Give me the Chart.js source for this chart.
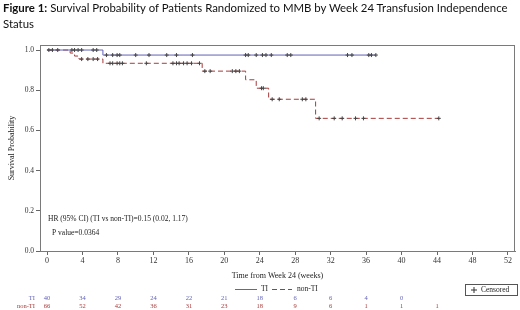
<!DOCTYPE html>
<html>
<head>
<meta charset="utf-8">
<script src="https://cdn.jsdelivr.net/npm/chart.js@4"></script>
<style>
  html, body { margin: 0; padding: 0; background: #fff; }
  #wrap { position: relative; width: 520px; height: 310px; overflow: hidden; }
  #title { position: absolute; left: 3px; top: 0; width: 515px; font-family: Lato, "Open Sans", sans-serif;
           font-size: 11.4px; line-height: 16px; color: #111; white-space: nowrap; }
  #title b { font-weight: 700; }
  canvas { position: absolute; left: 0; top: 0; }
</style>
</head>
<body>
<div id="wrap">
  <canvas id="km" width="520" height="310"></canvas>
  <div id="title"><b>Figure 1:</b> Survival Probability of Patients Randomized to MMB by Week 24 Transfusion Independence<br>Status</div>
</div>
<script>
// Kaplan-Meier steps (week, survival after that week)
const TI_TIMES = [0, 6.3, 37.1];
const TI_SURV  = [1.0, 0.975, 0.975];
const NON_TIMES = [0, 2.6, 3.1, 3.6, 6.3, 17.5, 22.4, 23.6, 25.0, 30.3, 44.2];
const NON_SURV  = [1.0, 0.985, 0.97, 0.955, 0.934, 0.895, 0.852, 0.81, 0.755, 0.66, 0.66];

// censored marks
const TI_CENS_T = [0.2, 0.6, 1.2, 2.8, 3.1, 3.5, 3.9, 5.2, 5.6,
                   6.7, 7.4, 7.9, 8.2, 10.0, 11.5, 13.5, 14.6, 16.4, 22.4, 22.7, 23.6, 24.3, 24.7, 25.3,
                   27.1, 27.5, 33.9, 34.4, 36.3, 36.6, 37.1];
const TI_CENS_S = [1, 1, 1, 1, 1, 1, 1, 1, 1,
                   0.975, 0.975, 0.975, 0.975, 0.975, 0.975, 0.975, 0.975, 0.975, 0.975, 0.975, 0.975, 0.975, 0.975, 0.975,
                   0.975, 0.975, 0.975, 0.975, 0.975, 0.975, 0.975];
const NON_CENS_T = [3.9, 4.6, 5.2, 5.7,
                    7.1, 7.4, 7.9, 8.2, 8.5, 11.2, 14.2, 14.6, 14.9, 15.4, 15.8, 16.3, 17.2,
                    17.8, 18.4, 20.9, 21.3, 21.7, 24.2, 24.4, 25.4, 26.2, 28.8, 29.2,
                    30.7, 32.4, 33.3, 34.8, 35.7, 44.2];
const NON_CENS_S = [0.955, 0.955, 0.955, 0.955,
                    0.934, 0.934, 0.934, 0.934, 0.934, 0.934, 0.934, 0.934, 0.934, 0.934, 0.934, 0.934, 0.934,
                    0.895, 0.895, 0.895, 0.895, 0.895, 0.81, 0.81, 0.755, 0.755, 0.755, 0.755,
                    0.66, 0.66, 0.66, 0.66, 0.66, 0.66];

// axes
const X_TICKS = [0, 4, 8, 12, 16, 20, 24, 28, 32, 36, 40, 44, 48, 52];
const Y_TICKS = [0, 0.2, 0.4, 0.6, 0.8, 1.0];

// number at risk
const RISK_WEEKS = [0, 4, 8, 12, 16, 20, 24, 28, 32, 36, 40, 44];
const RISK_TI  = [40, 34, 29, 24, 22, 21, 18, 6, 6, 4, 0];
const RISK_NON = [66, 52, 42, 36, 31, 23, 18, 9, 6, 1, 1, 1];

const TI_COLOR = '#6262b8';
const NON_COLOR = '#a83a3a';
const SERIF = '"Liberation Serif", "DejaVu Serif", serif';

function pts(xs, ys) { return xs.map((x, i) => ({ x, y: ys[i] })); }

const extras = {
  id: 'extras',
  afterDraw(chart) {
    const { ctx, chartArea: a, scales: { x } } = chart;
    ctx.save();
    // frame
    ctx.strokeStyle = '#7a7a7a';
    ctx.lineWidth = 1;
    ctx.strokeRect(a.left + 0.5, a.top + 0.5, a.right - a.left - 1, a.bottom - a.top);

    ctx.font = `7.5px ${SERIF}`;
    ctx.fillStyle = '#222';
    ctx.textBaseline = 'middle';
    ctx.textAlign = 'left';
    ctx.fillText('HR (95% CI) (TI vs non-TI)=0.15 (0.02, 1.17)', 48, 219);
    ctx.fillText('P value=0.0364', 52, 233);

    // legend
    ctx.lineWidth = 1;
    ctx.strokeStyle = TI_COLOR;
    ctx.beginPath(); ctx.moveTo(235, 289.5); ctx.lineTo(257, 289.5); ctx.stroke();
    ctx.fillText('TI', 261, 289);
    ctx.strokeStyle = NON_COLOR;
    ctx.setLineDash([5, 3]);
    ctx.beginPath(); ctx.moveTo(272, 289.5); ctx.lineTo(292, 289.5); ctx.stroke();
    ctx.setLineDash([]);
    ctx.fillText('non-TI', 297, 289);

    // censored box
    ctx.strokeStyle = '#555';
    ctx.strokeRect(465.5, 284.5, 52, 11);
    ctx.fillText('Censored', 481, 290);
    ctx.beginPath();
    ctx.moveTo(471, 290); ctx.lineTo(477, 290);
    ctx.moveTo(474, 287); ctx.lineTo(474, 293);
    ctx.strokeStyle = '#333';
    ctx.stroke();

    // risk table
    ctx.font = `6.5px ${SERIF}`;
    ctx.textAlign = 'right';
    ctx.fillStyle = TI_COLOR;
    ctx.fillText('TI', 35, 298);
    ctx.fillStyle = NON_COLOR;
    ctx.fillText('non-TI', 35, 306);
    ctx.textAlign = 'center';
    RISK_TI.forEach((v, i) => {
      ctx.fillStyle = TI_COLOR;
      ctx.fillText(String(v), x.getPixelForValue(RISK_WEEKS[i]), 298);
    });
    RISK_NON.forEach((v, i) => {
      ctx.fillStyle = NON_COLOR;
      ctx.fillText(String(v), x.getPixelForValue(RISK_WEEKS[i]), 306);
    });
    ctx.restore();
  }
};

new Chart(document.getElementById('km').getContext('2d'), {
  type: 'line',
  data: {
    datasets: [
      { label: 'TI', data: pts(TI_TIMES, TI_SURV), stepped: true, borderColor: TI_COLOR,
        borderWidth: 1, pointRadius: 0, fill: false, order: 2 },
      { label: 'non-TI', data: pts(NON_TIMES, NON_SURV), stepped: true, borderColor: NON_COLOR,
        borderWidth: 1, borderDash: [5, 3], pointRadius: 0, fill: false, order: 2 },
      { type: 'scatter', label: 'TI censored', data: pts(TI_CENS_T, TI_CENS_S), pointStyle: 'cross',
        pointRadius: 2, borderColor: '#444', borderWidth: 1, order: 1 },
      { type: 'scatter', label: 'non-TI censored', data: pts(NON_CENS_T, NON_CENS_S), pointStyle: 'cross',
        pointRadius: 2, borderColor: '#444', borderWidth: 1, order: 1 },
    ]
  },
  options: {
    responsive: false,
    animation: false,
    layout: { padding: { top: 45, right: 2, left: 0, bottom: 0 } },
    plugins: { legend: { display: false }, tooltip: { enabled: false } },
    scales: {
      x: {
        type: 'linear', min: -0.8, max: 52.8,
        afterBuildTicks: s => { s.ticks = X_TICKS.map(v => ({ value: v })); },
        afterFit: s => { s.height = 59; },
        grid: { drawOnChartArea: false, tickLength: 4, color: '#666' },
        border: { color: '#7a7a7a' },
        ticks: { padding: 1, color: '#333', font: { family: SERIF, size: 8 }, maxRotation: 0 },
        title: { display: true, text: 'Time from Week 24 (weeks)', color: '#222',
                 font: { family: SERIF, size: 8 }, padding: { top: 0, bottom: 29 } },
      },
      y: {
        min: 0, max: 1.025,
        afterBuildTicks: s => { s.ticks = Y_TICKS.map(v => ({ value: v })); },
        afterFit: s => { s.width = 40; },
        grid: { drawOnChartArea: false, tickLength: 4, color: '#666' },
        border: { color: '#7a7a7a' },
        ticks: { padding: 2, color: '#333', font: { family: SERIF, size: 7.5 }, callback: v => v.toFixed(1) },
        title: { display: true, text: 'Survival Probability', color: '#222',
                 font: { family: SERIF, size: 8 }, padding: { top: 7, bottom: 0 } },
      }
    }
  },
  plugins: [extras]
});
</script>
</body>
</html>
